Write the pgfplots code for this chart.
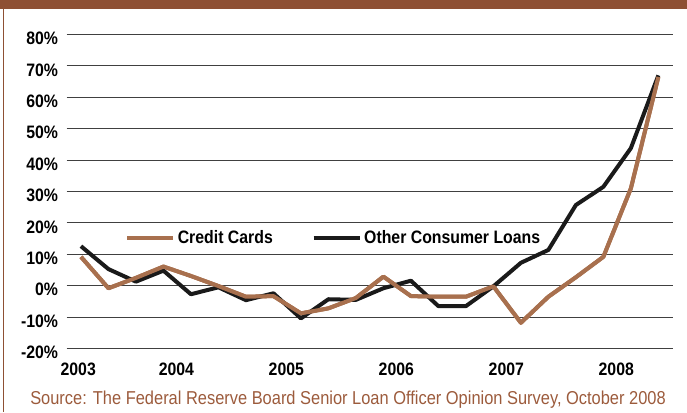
\documentclass[border=0pt]{standalone}
\usepackage{pgfplots}
\pgfplotsset{compat=1.18}
\usepackage{fontspec}
\setmainfont{Liberation Sans}[FakeStretch=0.88]
\definecolor{barbrown}{HTML}{8E5034}
\definecolor{ccbrown}{HTML}{A8704E}
\definecolor{srcbrown}{HTML}{9C5B3C}
\definecolor{oclblack}{HTML}{1A1A1A}
\pgfplotstableread{
i cc ocl
0 9.2 12.6
1 -0.8 5.3
2 2.5 1.3
3 6.1 4.8
4 3.1 -2.7
5 -0.1 -0.5
6 -3.5 -4.6
7 -3.3 -2.4
8 -8.8 -10.4
9 -7.2 -4.3
10 -3.9 -4.5
11 2.9 -0.8
12 -3.3 1.6
13 -3.5 -6.5
14 -3.5 -6.5
15 -0.2 -0.2
16 -11.8 7.3
17 -3.5 11.4
18 2.7 25.7
19 9.2 31.5
20 31.0 43.8
21 66.5 67.0
}\datatable
\begin{document}
\begin{tikzpicture}
\path[use as bounding box] (0,0) rectangle (515.25pt,309pt);
\fill[barbrown] (0,302.5pt) rectangle (515.25pt,309pt);
\fill[barbrown] (2.0pt,0) rectangle (2.8pt,309pt);
\begin{axis}[
  at={(50pt,47.6pt)}, anchor=south west,
  scale only axis, width=454.7pt, height=235.5pt,
  xmin=-0.52, xmax=21.53, ymin=-20, ymax=80,
  axis line style={draw=none},
  major tick length=0pt,
  ytick={-20,-10,0,10,20,30,40,50,60,70,80},
  yticklabels={-20\%,-10\%,0\%,10\%,20\%,30\%,40\%,50\%,60\%,70\%,80\%},
  xtick={-0.1,3.47,7.47,11.47,15.47,19.47},
  xticklabels={2003,2004,2005,2006,2007,2008},
  ymajorgrids,
  major grid style={black!75, line width=0.75pt},
  yticklabel style={font=\fontsize{13.5pt}{14pt}\selectfont\bfseries, anchor=east, inner sep=0pt, xshift=-6.3pt, yshift=-3pt},
  xticklabel style={font=\fontsize{13.5pt}{14pt}\selectfont\bfseries, anchor=north, inner sep=0pt, yshift=-10.5pt},
  legend columns=2,
  legend style={at={(rel axis cs:0.096,0.351)}, anchor=west, draw=none, fill=none, inner sep=0pt,
    font=\fontsize{13.5pt}{14pt}\selectfont\bfseries,
    /tikz/every even column/.append style={column sep=27pt}},
  legend cell align=left,
  legend image code/.code={\draw[#1, line width=3pt] (0pt,0pt) -- (34.5pt,0pt);},
  clip=false,
]
\addplot[ccbrown, line width=3pt, line join=round] table[x=i, y=cc] {\datatable};
\addlegendentry{Credit Cards}
\addplot[oclblack, line width=3pt, line join=round] table[x=i, y=ocl] {\datatable};
\addlegendentry{Other Consumer Loans}
\addplot[ccbrown, line width=3pt, line join=round, forget plot] table[x=i, y=cc] {\datatable};
\end{axis}
\node[anchor=base west, inner sep=0pt, text=srcbrown, font=\fontsize{14pt}{15pt}\selectfont] at (22.5pt,6pt) {Source: The Federal Reserve Board Senior Loan Officer Opinion Survey, October 2008};
\end{tikzpicture}
\end{document}
